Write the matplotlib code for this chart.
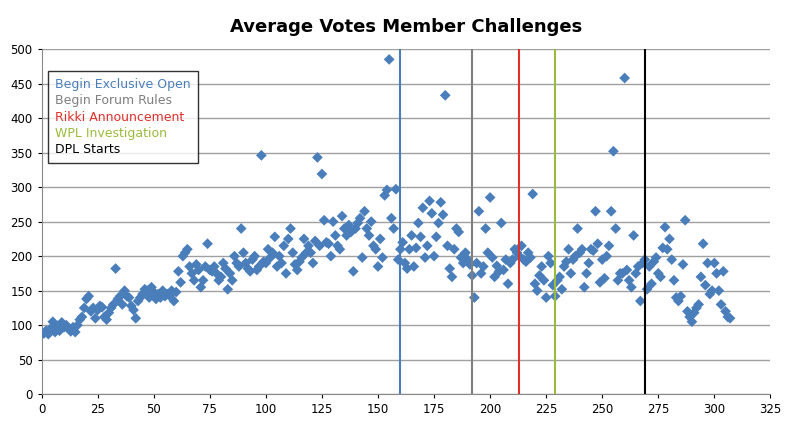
import matplotlib
matplotlib.use("Agg")
import matplotlib.pyplot as plt

# average votes per member challenge
votes = [
    88, 92, 87, 95, 105, 90, 99, 92, 104, 97,
    100, 95, 91, 97, 90, 100, 108, 112, 125, 138,
    142, 120, 125, 110, 122, 128, 126, 112, 108, 118,
    125, 130, 182, 138, 142, 130, 150, 142, 140, 128,
    122, 110, 135, 140, 145, 152, 150, 140, 155, 148,
    138, 145, 140, 150, 142, 145, 143, 150, 135, 148,
    178, 162, 200, 205, 210, 185, 175, 165, 188, 180,
    155, 165, 185, 218, 180, 178, 185, 175, 165, 170,
    190, 182, 152, 175, 165, 200, 190, 185, 240, 205,
    190, 182, 178, 195, 200, 180, 185, 346, 192, 190,
    210, 198, 205, 228, 185, 200, 190, 215, 175, 225,
    240, 205, 188, 180, 192, 198, 225, 205, 215, 205,
    190, 222, 343, 215, 319, 252, 220, 218, 200, 250,
    230, 215, 210, 258, 240, 230, 245, 235, 178, 240,
    248, 255, 198, 265, 240, 230, 250, 215, 210, 185,
    225, 198, 288, 296, 485, 255, 240, 297, 195, 210,
    220, 190, 182, 210, 230, 185, 212, 248, 228, 270,
    198, 215, 280, 262, 200, 228, 248, 278, 260, 433,
    215, 182, 170, 210, 240, 235, 198, 190, 205, 195,
    188, 172, 140, 190, 265, 175, 185, 240, 205, 285,
    198, 170, 186, 178, 248, 180, 195, 160, 190, 195,
    210, 205, 200, 215, 195, 192, 205, 198, 290, 160,
    150, 172, 185, 165, 140, 200, 190, 158, 142, 165,
    170, 152, 185, 192, 210, 175, 195, 200, 240, 205,
    210, 155, 175, 190, 210, 208, 265, 218, 162, 195,
    168, 200, 215, 265, 352, 240, 165, 175, 175, 458,
    180, 165, 155, 230, 175, 185, 135, 190, 195, 152,
    185, 160, 192, 198, 175, 170, 212, 242, 210, 225,
    195, 165, 140, 135, 142, 188, 252, 120, 112, 105,
    118, 125, 130, 170, 218, 158, 190, 145, 150, 190,
    175, 150, 130, 178, 120, 112, 110,
]
x_vals = list(range(1, len(votes) + 1))

event_x = [160, 192, 213, 229, 269]
event_labels = ["Begin Exclusive Open", "Begin Forum Rules", "Rikki Announcement",
                "WPL Investigation", "DPL Starts"]
event_colors = ["#4a7ebb", "#7f7f7f", "#e0302a", "#9bbb3a", "#000000"]

fig, ax = plt.subplots(figsize=(8.0, 4.38), dpi=100)
fig.subplots_adjust(left=0.052, right=0.963, top=0.888, bottom=0.1)

ax.scatter(x_vals, votes, marker="D", s=30, color="#4a7ebb", edgecolors="none", zorder=3)
for xv, c in zip(event_x, event_colors):
    ax.axvline(xv, color=c, linewidth=1.5, zorder=4)

ax.set_xlim(0, 325)
ax.set_ylim(0, 500)
ax.set_xticks(range(0, 326, 25))
ax.set_yticks(range(0, 501, 50))
ax.yaxis.grid(True, color="#a0a0a0", linewidth=1)
ax.set_axisbelow(True)
ax.tick_params(labelsize=8.5, length=3)
for s in ["top", "right"]:
    ax.spines[s].set_visible(False)
ax.spines["left"].set_color("#888888")
ax.spines["bottom"].set_color("#888888")

ax.set_title("Average Votes Member Challenges", fontsize=13, fontweight="bold", pad=12)

# legend box with coloured text only
handles = [plt.Line2D([], [], linestyle="none") for _ in event_labels]
leg = ax.legend(handles, event_labels, loc="upper left", bbox_to_anchor=(0.0, 0.955),
                frameon=True, fancybox=False, edgecolor="black", fontsize=9,
                handlelength=0, handletextpad=0, borderpad=0.6, labelspacing=0.25)
for t, c in zip(leg.get_texts(), event_colors):
    t.set_color(c)

fig.savefig("out.png", dpi=100)
